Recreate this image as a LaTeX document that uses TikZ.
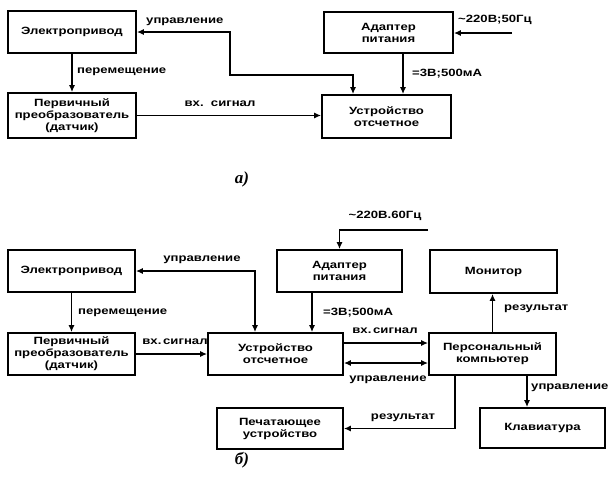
\documentclass[tikz,border=0pt]{standalone}
\usepackage{fontspec}
\setmainfont[FakeStretch=1.25]{Liberation Sans}
\newfontfamily\capfont{Liberation Serif}
\usetikzlibrary{arrows.meta,calc}
\begin{document}
\begin{tikzpicture}[x=1pt,y=-1pt,
  blk/.style={draw,line width=1.7pt,align=center,inner sep=0pt,font=\fontsize{10.5}{12}\selectfont\bfseries},
  lbl/.style={font=\fontsize{10.5}{12}\selectfont\bfseries,inner sep=1pt},
  arr/.style={line width=1.5pt,-{Latex[length=7pt,width=6pt]}},
  darr/.style={line width=1.5pt,{Latex[length=7pt,width=6pt]}-{Latex[length=7pt,width=6pt]}},
  captext/.style={font=\capfont\itshape\bfseries\fontsize{17}{19}\selectfont}]
\useasboundingbox (0,0) rectangle (612,480);
% ---------- a) ----------
\node[blk,minimum width=128pt,minimum height=42pt] (epa) at (72,32) {Электропривод};
\node[blk,minimum width=128pt,minimum height=45pt] (ppa) at (72,115.5) {Первичный\\преобразователь\\(датчик)};
\node[blk,minimum width=129pt,minimum height=41pt] (ada) at (388.5,32.5) {Адаптер\\питания};
\node[blk,minimum width=129pt,minimum height=43pt] (usa) at (386.5,116.5) {Устройство\\отсчетное};
\coordinate (ina) at (512,33);
\draw[arr] (epa.south) -- (epa.south |- ppa.north);
\node[lbl,anchor=west] (la1) at (76,72) {перемещение};
\draw[arr] (ina) -- (ina -| ada.east);
\node[lbl,anchor=west] (la2) at (457,20) {\textasciitilde220В;50Гц};
\draw[arr] ([xshift=14.5pt]ada.south) -- ([xshift=14.5pt]ada.south |- usa.north);
\node[lbl,anchor=west] (la3) at (411,74) {=3В;500мА};
\coordinate (ua1) at (230,75);
\draw[darr] ([xshift=-33.5pt]usa.north) |- (ua1) |- (epa.east);
\node[lbl,anchor=west] (la4) at (145,22) {управление};
\draw[arr] (ppa.east) -- (ppa.east -| usa.west);
\node[lbl] (la5) at (220,104) {вх.\ \ сигнал};
\node[captext] (capa) at (242,179) {а)};
% ---------- b) ----------
\node[blk,minimum width=127pt,minimum height=42pt] (epb) at (71.5,271) {Электропривод};
\node[blk,minimum width=127pt,minimum height=42pt] (ppb) at (71.5,354) {Первичный\\преобразователь\\(датчик)};
\node[blk,minimum width=135pt,minimum height=42pt] (usb) at (275.5,354) {Устройство\\отсчетное};
\node[blk,minimum width=125pt,minimum height=42pt] (adb) at (339.5,271) {Адаптер\\питания};
\node[blk,minimum width=127pt,minimum height=43pt] (mon) at (493.5,271.5) {Монитор};
\node[blk,minimum width=127pt,minimum height=42pt] (pc) at (492.5,354) {Персональный\\компьютер};
\node[blk,minimum width=125pt,minimum height=40pt] (kb) at (542.5,428) {Клавиатура};
\node[blk,minimum width=126pt,minimum height=41pt] (pr) at (280,428.5) {Печатающее\\устройство};
\draw[arr] (epb.south) -- (epb.south |- ppb.north);
\node[lbl,anchor=west] (lb1) at (77,313) {перемещение};
\draw[arr] (ppb.east) -- (ppb.east -| usb.west);
\node[lbl] (lb2) at (175,342) {вх.\,сигнал};
\draw[darr] ([xshift=-20.5pt]usb.north) |- (epb.east);
\node[lbl] (lb3) at (202,260) {управление};
\coordinate (inb) at (428,230);
\draw[arr] (inb) -| (adb.north);
\node[lbl] (lb4) at (385,216) {\textasciitilde220В.60Гц};
\draw[arr] ([xshift=-27.5pt]adb.south) -- ([xshift=-27.5pt]adb.south |- usb.north);
\node[lbl,anchor=west] (lb5) at (322,313) {=3В;500мА};
\draw[arr] ([yshift=11pt]usb.east) -- ([yshift=11pt]usb.east -| pc.west);
\node[lbl] (lb6) at (385,331) {вх.\,сигнал};
\draw[darr] ([yshift=-9pt]usb.east) -- ([yshift=-9pt]usb.east -| pc.west);
\node[lbl] (lb7) at (388,380) {управление};
\draw[arr] (pc.north) -- (pc.north |- mon.south);
\node[lbl,anchor=west] (lb8) at (503,309) {результат};
\draw[arr] ([xshift=34.5pt]pc.south) -- ([xshift=34.5pt]pc.south |- kb.north);
\node[lbl,anchor=west] (lb9) at (530,388) {управление};
\draw[arr] ([xshift=-37.5pt]pc.south) |- (pr.east);
\node[lbl] (lb10) at (403,418) {результат};
\node[captext] (capb) at (242,460) {б)};
\end{tikzpicture}
\end{document}
